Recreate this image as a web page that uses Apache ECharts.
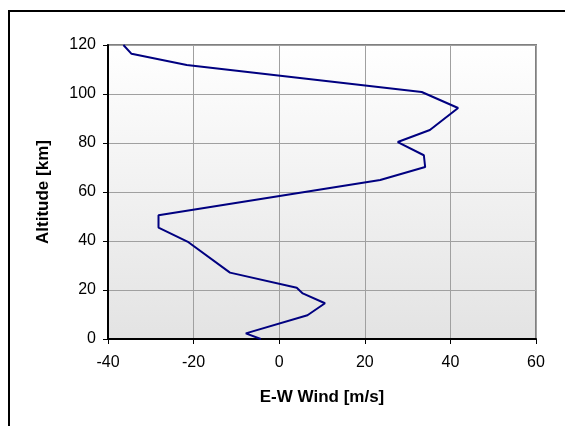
<!DOCTYPE html>
<html>
<head>
<meta charset="utf-8">
<script src="https://cdn.jsdelivr.net/npm/echarts@6/dist/echarts.min.js"></script>
<style>html,body{margin:0;padding:0;background:#fff;}#c{width:565px;height:426px;}</style>
</head>
<body>
<div id="c"></div>
<script>
const windValues = [-36.4, -34.5, -21.6, 33.3, 41.8, 35.2, 27.7, 33.8, 34.1, 23.6, -28.2, -28.2, -21.2, -11.5, 4.1, 5.5, 10.7, 6.6, -7.8, -4.3];
const altitudes = [120, 116.4, 111.8, 100.8, 94.3, 85.3, 80.4, 75.0, 70.2, 64.9, 50.5, 45.5, 39.5, 27.1, 20.9, 18.6, 14.6, 9.7, 2.3, 0];
const xTicks = [-40, -20, 0, 20, 40, 60];
const yTicks = [0, 20, 40, 60, 80, 100, 120];

const data = windValues.map((w, i) => [w, altitudes[i]]);
const chart = echarts.init(document.getElementById('c'));
const font = '"Liberation Sans", Arial, sans-serif';
chart.setOption({
  animation: false,
  backgroundColor: '#ffffff',
  graphic: [{
    type: 'rect', shape: { x: 9, y: 11, width: 620, height: 500 },
    style: { fill: 'none', stroke: '#000', lineWidth: 2 }, z: -1
  }],
  grid: {
    left: 108, top: 45, right: 29, bottom: 87,
    show: true, borderColor: '#808080', borderWidth: 2,
    backgroundColor: new echarts.graphic.LinearGradient(0, 0, 0, 1, [
      { offset: 0, color: '#ffffff' }, { offset: 1, color: '#e3e3e3' }
    ])
  },
  xAxis: {
    type: 'value', min: xTicks[0], max: xTicks[xTicks.length - 1], interval: 20,
    name: 'E-W Wind [m/s]', nameLocation: 'middle', nameGap: 50,
    nameTextStyle: { fontFamily: font, fontSize: 17, fontWeight: 'bold', color: '#000' },
    axisLine: { show: true, onZero: false, lineStyle: { color: '#000', width: 2 } },
    axisTick: { show: true, length: 5, lineStyle: { color: '#000' } },
    axisLabel: { fontFamily: font, fontSize: 16, color: '#000', margin: 16 },
    splitLine: { show: true, lineStyle: { color: '#a0a0a0', width: 1 } }
  },
  yAxis: {
    type: 'value', min: yTicks[0], max: yTicks[yTicks.length - 1], interval: 20,
    name: 'Altitude [km]', nameLocation: 'middle', nameGap: 56, nameRotate: 90,
    nameTextStyle: { fontFamily: font, fontSize: 17, fontWeight: 'bold', color: '#000' },
    axisLine: { show: true, onZero: false, lineStyle: { color: '#000', width: 2 } },
    axisTick: { show: true, length: 5, lineStyle: { color: '#000' } },
    axisLabel: { fontFamily: font, fontSize: 16, color: '#000', margin: 12 },
    splitLine: { show: true, lineStyle: { color: '#a0a0a0', width: 1 } }
  },
  series: [{
    type: 'line', data: data, showSymbol: false, symbol: 'none',
    lineStyle: { color: '#000080', width: 2 }, z: 5
  }]
});
</script>
</body>
</html>
